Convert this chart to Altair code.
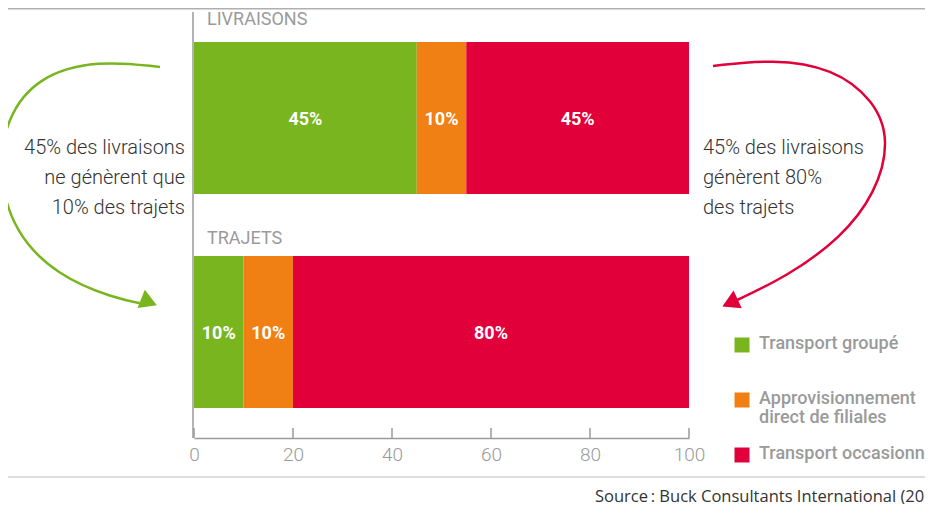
import altair as alt
import pandas as pd

# ---- data ----
categories = ["LIVRAISONS", "TRAJETS"]
series = ["Transport groupé", "Approvisionnement direct de filiales", "Transport occasionnel"]
legend_labels = ["Transport groupé", "Approvisionnement\ndirect de filiales", "Transport occasionnel"]
colors = ["#78b51f", "#f07f14", "#e2003a"]
livraisons = [45, 10, 45]
trajets = [10, 10, 80]
x_ticks = [0, 20, 40, 60, 80, 100]

rows = []
for cat, vals in zip(categories, [livraisons, trajets]):
    for i, (s, v) in enumerate(zip(series, vals)):
        rows.append({"cat": cat, "series": s, "value": v, "order": i})
df = pd.DataFrame(rows)
ticks_df = pd.DataFrame({"t": x_ticks})
legend_df = pd.DataFrame({"series": series, "label": legend_labels, "idx": list(range(len(series)))})

W, H = 917, 430
xscale = alt.Scale(domain=[0, 100], range=[186, 681], nice=False, zero=False)
yscale = alt.Scale(domain=categories, range=[34, 400], paddingInner=0.29, paddingOuter=0)
cscale = alt.Scale(domain=series, range=colors)

base = alt.Chart(df).transform_stack(
    stack="value", groupby=["cat"], as_=["x0", "x1"],
    sort=[alt.SortField("order", order="ascending")]
)

bars = base.mark_bar(stroke=None).encode(
    x=alt.X("x0:Q", scale=xscale,
            axis=alt.Axis(values=x_ticks, ticks=False, grid=False, domain=True,
                          domainColor="#9a9a9a", domainWidth=1.5, labelColor="#9a9a9a",
                          labelFont="Roboto", labelFontSize=19, labelFontWeight=300,
                          labelPadding=7, title=None, labelFlush=False)),
    x2="x1:Q",
    y=alt.Y("cat:N", scale=yscale, axis=None),
    color=alt.Color("series:N", scale=cscale, legend=None),
)

bar_text = base.transform_calculate(mid="(datum.x0 + datum.x1) / 2",
                                    lbl="datum.value + '%'").mark_text(
    color="white", font="Roboto", fontWeight="bold", fontSize=18, baseline="middle", dy=2
).encode(
    x=alt.X("mid:Q", scale=xscale),
    y=alt.Y("cat:N", scale=yscale),
    text="lbl:N",
)

tick_marks = alt.Chart(ticks_df).mark_rule(color="#9a9a9a", strokeWidth=1.5).encode(
    x=alt.X("t:Q", scale=xscale),
    y=alt.value(420), y2=alt.value(430),
)

vline = alt.Chart(ticks_df.head(1)).mark_rule(color="#9a9a9a", strokeWidth=1.5).encode(
    x=alt.value(185), y=alt.value(4), y2=alt.value(430)
)
top_line = alt.Chart(ticks_df.head(1)).mark_rule(color="#b0b0b0", strokeWidth=2).encode(
    x=alt.value(0), x2=alt.value(W), y=alt.value(0.5)
)
bottom_line = alt.Chart(ticks_df.head(1)).mark_rule(color="#dddddd", strokeWidth=2).encode(
    x=alt.value(0), x2=alt.value(W), y=alt.value(469)
)

cat_text = alt.Chart(pd.DataFrame({"cat": categories, "ty": [12, 231]})).mark_text(
    align="left", baseline="middle", font="Roboto", fontSize=18, fontWeight="normal", color="#9a9a9a"
).encode(x=alt.value(199), y=alt.Y("ty:Q", scale=None), text="cat:N")

left_note = alt.Chart(ticks_df.head(1)).mark_text(
    align="right", baseline="middle", font="Roboto", fontWeight=300, fontSize=20,
    color="#333333", lineHeight=30, lineBreak="\n"
).encode(x=alt.value(177), y=alt.value(140),
         text=alt.value("45% des livraisons\nne génèrent que \n10% des trajets"))

right_note = alt.Chart(ticks_df.head(1)).mark_text(
    align="left", baseline="middle", font="Roboto", fontWeight=300, fontSize=20,
    color="#333333", lineHeight=30, lineBreak="\n"
).encode(x=alt.value(695), y=alt.value(140),
         text=alt.value("45% des livraisons\ngénèrent 80%\ndes trajets"))

# curved arrows (annotation paths, pixel space)
green_path = pd.DataFrame({
    "px": [152, 90, 30, -2, -10, 6, 50, 105, 140],
    "py": [59, 52, 68, 110, 165, 225, 268, 290, 297],
    "o": list(range(9)),
})
red_path = pd.DataFrame({
    "px": [705, 765, 825, 866, 882, 868, 833, 780, 725],
    "py": [58, 51, 60, 92, 132, 185, 230, 268, 294],
    "o": list(range(9)),
})
green_arrow = alt.Chart(green_path).mark_line(
    color=colors[0], strokeWidth=2.5, interpolate="basis"
).encode(x=alt.X("px:Q", scale=None), y=alt.Y("py:Q", scale=None), order="o:O")
red_arrow = alt.Chart(red_path).mark_line(
    color=colors[2], strokeWidth=2.5, interpolate="basis"
).encode(x=alt.X("px:Q", scale=None), y=alt.Y("py:Q", scale=None), order="o:O")

green_head = alt.Chart(ticks_df.head(1)).mark_point(
    shape="triangle-right", filled=True, color=colors[0], size=380, angle=22, opacity=1
).encode(x=alt.value(141), y=alt.value(294))
red_head = alt.Chart(ticks_df.head(1)).mark_point(
    shape="triangle-left", filled=True, color=colors[2], size=380, angle=335, opacity=1
).encode(x=alt.value(722), y=alt.value(295))

# legend (custom)
leg_sq = alt.Chart(legend_df).transform_calculate(ly="337 + 55 * datum.idx").mark_square(
    size=225, opacity=1
).encode(x=alt.value(734), y=alt.Y("ly:Q", scale=None),
         color=alt.Color("series:N", scale=cscale, legend=None))
leg_txt = alt.Chart(legend_df).transform_calculate(ly="337 + 55 * datum.idx - 10").mark_text(
    align="left", baseline="top", font="Roboto", fontSize=18, fontWeight=500,
    color="#9a9a9a", lineBreak="\n", lineHeight=19
).encode(x=alt.value(751), y=alt.Y("ly:Q", scale=None), text="label:N")

source = alt.Chart(ticks_df.head(1)).mark_text(
    align="left", baseline="middle", font="Open Sans", fontSize=16.5, color="#333333"
).encode(x=alt.value(587), y=alt.value(489),
         text=alt.value("Source\u2009: Buck Consultants International (2014)"))

chart = alt.layer(
    top_line, bottom_line, bars, bar_text, tick_marks, vline, cat_text,
    left_note, right_note, green_arrow, red_arrow, green_head, red_head,
    leg_sq, leg_txt, source
).properties(
    width=W, height=H,
    autosize=alt.AutoSizeParams(type="none"),
    padding={"left": 0, "top": 0, "right": 0, "bottom": 66},
).configure(background="white").configure_view(stroke=None)

chart.save("out.html", embed_options={"renderer": "svg", "actions": False})
